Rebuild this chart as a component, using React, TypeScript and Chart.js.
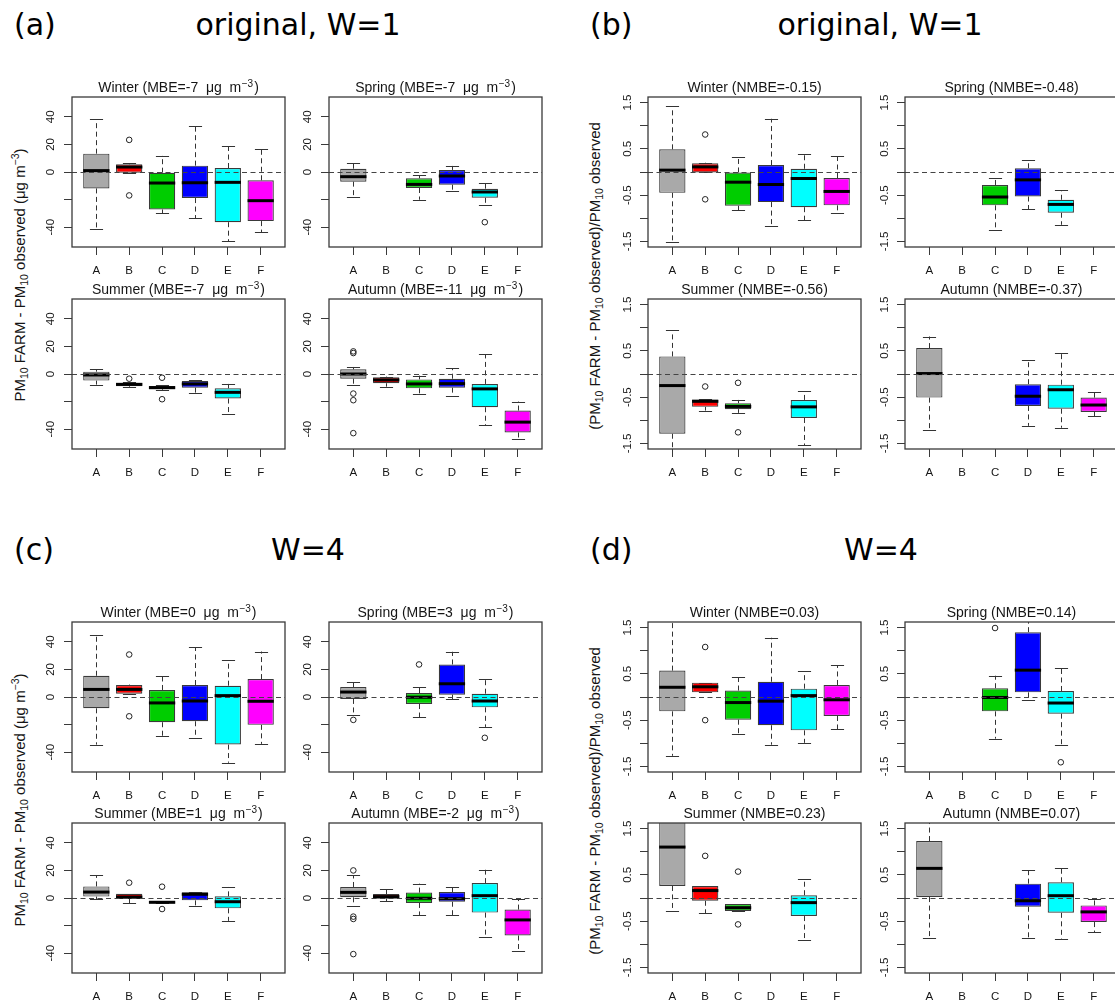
import React, { useEffect, useRef } from 'react';
import { Chart, registerables } from 'chart.js';

Chart.register(...registerables);

// ---------- data ----------
const categories = ['A', 'B', 'C', 'D', 'E', 'F'];
const seasons = ['Winter', 'Spring', 'Summer', 'Autumn'];

// each box: [lower whisker, Q1, median, Q3, upper whisker]; null = no box
// outliers: [category position (1..6), value]

// (a) original, W=1 — MBE
const aScores = ['-7', '-7', '-7', '-11'];
const aWinterBoxes = [
  [-41, -11.9, 1, 13.3, 38.3],
  [-0.5, -0.5, 3.6, 5.6, 6.2],
  [-30, -27.2, -8, -0.5, 11.9],
  [-33.5, -18.9, -7.8, 4.6, 33.5],
  [-50.4, -36.4, -7.5, 2.9, 18.7],
  [-43.6, -35.6, -20.8, -6, 16.7],
];
const aWinterOutliers = [[2, 23.3], [2, -17]];
const aSpringBoxes = [
  [-18.4, -7, -3.4, 2.4, 6.8],
  null,
  [-20.1, -11.6, -9, -4.6, -2.2],
  [-13.6, -9.2, -2.9, 1.5, 4.4],
  [-24.2, -18.7, -14.5, -12.1, -8],
  null,
];
const aSpringOutliers = [[5, -36.4]];
const aSummerBoxes = [
  [-7.7, -4.8, -0.7, 1.7, 3.6],
  [-9.6, -8.9, -7.5, -6.5, -5.8],
  [-11.8, -11.1, -9.9, -8.7, -8],
  [-13.5, -9.9, -7.2, -5.1, -4.6],
  [-28.9, -17.8, -13.3, -10.4, -7.2],
  null,
];
const aSummerOutliers = [[2, -3.4], [3, -2.7], [3, -18.3]];
const aAutumnBoxes = [
  [-8, -3.4, 0, 3.4, 5.1],
  [-9.2, -6.7, -4.3, -2.4, -1.9],
  [-14.5, -10.4, -7.2, -3.9, -1.2],
  [-16.1, -9.9, -7, -3.4, 4.3],
  [-37.3, -24.1, -10.8, -7.2, 14.5],
  [-47.5, -42.4, -34.9, -26.5, -20],
];
const aAutumnOutliers = [[1, 16.4], [1, 15.2], [1, -14.2], [1, -19], [1, -42.9]];

// (b) original, W=1 — NMBE
const bScores = ['-0.15', '-0.48', '-0.56', '-0.37'];
const bWinterBoxes = [
  [-1.52, -0.45, 0.04, 0.49, 1.42],
  [-0.01, -0.01, 0.11, 0.19, 0.2],
  [-0.83, -0.73, -0.22, -0.01, 0.33],
  [-1.16, -0.65, -0.27, 0.15, 1.15],
  [-1.04, -0.76, -0.14, 0.07, 0.38],
  [-0.89, -0.72, -0.42, -0.13, 0.34],
];
const bWinterOutliers = [[2, 0.81], [2, -0.59]];
const bSpringBoxes = [
  null,
  null,
  [-1.25, -0.72, -0.54, -0.28, -0.12],
  [-0.8, -0.53, -0.17, 0.08, 0.26],
  [-1.14, -0.88, -0.7, -0.6, -0.39],
  null,
];
const bSpringOutliers: number[][] = [];
const bSummerBoxes = [
  [-1.8, -1.29, -0.25, 0.38, 0.94],
  [-0.79, -0.71, -0.59, -0.55, -0.55],
  [-0.84, -0.76, -0.7, -0.63, -0.56],
  null,
  [-1.54, -0.95, -0.71, -0.56, -0.37],
  null,
];
const bSummerOutliers = [[2, -0.27], [3, -0.19], [3, -1.26]];
const bAutumnBoxes = [
  [-1.2, -0.51, 0.01, 0.56, 0.81],
  null,
  null,
  [-1.12, -0.69, -0.48, -0.22, 0.3],
  [-1.16, -0.75, -0.34, -0.23, 0.45],
  [-0.91, -0.82, -0.67, -0.51, -0.39],
];
const bAutumnOutliers: number[][] = [];

// (c) W=4 — MBE
const cScores = ['0', '3', '1', '-2'];
const cWinterBoxes = [
  [-34.5, -8.2, 5.5, 15.4, 45.3],
  [2.4, 2.4, 5.5, 8.7, 9],
  [-28.4, -18.3, -4.3, 5.1, 15.2],
  [-29.6, -17.6, -2.9, 8.7, 36.1],
  [-47.7, -34.5, 1, 8.2, 26.7],
  [-34, -20.2, -3.1, 13, 33],
];
const cWinterOutliers = [[2, 30.8], [2, -14]];
const cSpringBoxes = [
  [-12.8, -1.4, 3.6, 7.2, 10.8],
  null,
  [-14.5, -5.1, -0.2, 2.9, 7.2],
  [-1.7, 1.7, 9.6, 23.6, 32.8],
  [-21.7, -7.5, -2.9, 2.4, 12.8],
  null,
];
const cSpringOutliers = [[1, -16.6], [3, 23.6], [5, -29.6]];
const cSummerBoxes = [
  [-0.7, 1, 4.3, 8.4, 16.6],
  [-3.9, -0.7, 0.7, 3.1, 3.1],
  [-3.9, -3.9, -3.1, -2.2, -2.2],
  [-5.8, -1.7, 2.7, 4.1, 4.3],
  [-16.6, -7.5, -2.7, 1.2, 8],
  null,
];
const cSummerOutliers = [[2, 11.1], [3, 8.2], [3, -8]];
const cAutumnBoxes = [
  [-5.5, 0.5, 4.1, 8, 16.6],
  [-2.2, -0.5, 1, 2.9, 6.7],
  [-12.3, -3.6, -0.2, 3.9, 10.4],
  [-12.3, -2.7, -0.5, 4.3, 8.2],
  [-28.4, -10.6, 1.7, 10.8, 20.5],
  [-38.6, -27.2, -15.9, -8.4, -0.7],
];
const cAutumnOutliers = [[1, 20], [1, -13.5], [1, -15.2], [1, -40.7]];

// (d) W=4 — NMBE
const dScores = ['0.03', '0.14', '0.23', '0.07'];
const dWinterBoxes = [
  [-1.27, -0.31, 0.21, 0.57, 1.9],
  [0.1, 0.1, 0.22, 0.31, 0.31],
  [-0.79, -0.49, -0.12, 0.14, 0.43],
  [-1.03, -0.61, -0.09, 0.33, 1.28],
  [-0.99, -0.72, 0.03, 0.18, 0.56],
  [-0.7, -0.41, -0.06, 0.26, 0.69],
];
const dWinterOutliers = [[2, 1.08], [2, -0.5]];
const dSpringBoxes = [
  null,
  null,
  [-0.9, -0.31, -0.01, 0.19, 0.46],
  [-0.07, 0.1, 0.58, 1.4, 1.9],
  [-1.03, -0.36, -0.13, 0.13, 0.62],
  null,
];
const dSpringOutliers = [[3, 1.49], [5, -1.41]];
const dSummerBoxes = [
  [-0.29, 0.26, 1.1, 1.9, 2.4],
  [-0.33, -0.06, 0.16, 0.26, 0.26],
  [-0.28, -0.28, -0.21, -0.13, -0.13],
  null,
  [-0.9, -0.39, -0.1, 0.06, 0.42],
  null,
];
const dSummerOutliers = [[2, 0.91], [3, 0.57], [3, -0.57]];
const dAutumnBoxes = [
  [-0.86, 0.02, 0.64, 1.23, 1.9],
  null,
  null,
  [-0.86, -0.19, -0.06, 0.31, 0.6],
  [-0.88, -0.32, 0.05, 0.34, 0.65],
  [-0.74, -0.52, -0.3, -0.16, -0.02],
];
const dAutumnOutliers: number[][] = [];

// axis ticks
const mbeTicks = [-40, -20, 0, 20, 40];
const mbeTickLabels = ['-40', '', '0', '20', '40'];
const mbeRange = [-54.4, 54.4];
const nmbeTicks = [-1.5, -1, -0.5, 0, 0.5, 1, 1.5];
const nmbeTickLabels = ['-1.5', '', '-0.5', '', '0.5', '', '1.5'];
const nmbeRange = [-1.62, 1.62];
const xRange = [0.26, 6.74];

const quadrantLetters = ['(a)', '(b)', '(c)', '(d)'];
const quadrantTitles = ['original, W=1', 'original, W=1', 'W=4', 'W=4'];

// ---------- styles ----------
const boxColors = ['#A9A9A9', '#FF0000', '#00CD00', '#0000FF', '#00FFFF', '#FF00FF'];
const FONT = '"Liberation Sans", Arial, Helvetica, sans-serif';
const TEXT = '#151515';
const AXIS_COLOR = '#3a3a3a';
const AXIS_Y_W = 60;
const AXIS_X_H = 40;
const PAD_TOP = 30;
const PAD_RIGHT = 5;
const PLOT_W = 213;
const PLOT_H = 150;
const CANVAS_W = AXIS_Y_W + PLOT_W + PAD_RIGHT;
const CANVAS_H = PAD_TOP + PLOT_H + AXIS_X_H;

type Box = number[] | null;
type Kind = 'mbe' | 'nmbe';

interface PanelProps {
  left: number;
  top: number;
  boxes: Box[];
  outliers: number[][];
  kind: Kind;
  season: string;
  score: string;
}

function drawTitle(chart: any, kind: Kind, season: string, score: string) {
  const { ctx, chartArea } = chart;
  const cx = (chartArea.left + chartArea.right) / 2;
  const by = chartArea.top - 5;
  const mainFont = `14px ${FONT}`;
  const supFont = `10px ${FONT}`;
  const parts =
    kind === 'mbe'
      ? [
          { t: `${season} (MBE=${score}  \u03bcg  m`, sup: false },
          { t: '\u22123', sup: true },
          { t: ')', sup: false },
        ]
      : [{ t: `${season} (NMBE=${score})`, sup: false }];
  ctx.save();
  ctx.fillStyle = TEXT;
  ctx.textAlign = 'left';
  ctx.textBaseline = 'alphabetic';
  let total = 0;
  const widths: number[] = [];
  for (const p of parts) {
    ctx.font = p.sup ? supFont : mainFont;
    const w = ctx.measureText(p.t).width + (p.sup ? 1.5 : 0);
    widths.push(w);
    total += w;
  }
  let x = cx - total / 2;
  parts.forEach((p, i) => {
    ctx.font = p.sup ? supFont : mainFont;
    ctx.fillText(p.t, x + (p.sup ? 0.5 : 0), p.sup ? by - 5 : by);
    x += widths[i];
  });
  ctx.restore();
}

function Panel({ left, top, boxes, outliers, kind, season, score }: PanelProps) {
  const ref = useRef<HTMLCanvasElement | null>(null);

  useEffect(() => {
    const canvas = ref.current;
    if (!canvas) return;
    const isMbe = kind === 'mbe';
    const yTicks = isMbe ? mbeTicks : nmbeTicks;
    const yLabels = isMbe ? mbeTickLabels : nmbeTickLabels;
    const yRange = isMbe ? mbeRange : nmbeRange;
    const tickFont = { family: FONT, size: 11.5 };

    const present = boxes
      .map((b, i) => ({ b, i }))
      .filter((e) => e.b !== null) as { b: number[]; i: number }[];

    const extras = {
      id: 'boxExtras',
      beforeDatasetsDraw(chart: any) {
        const { ctx, chartArea: ca } = chart;
        const xs = chart.scales.x;
        const ys = chart.scales.y;
        ctx.save();
        ctx.beginPath();
        ctx.rect(ca.left, ca.top, ca.right - ca.left, ca.bottom - ca.top);
        ctx.clip();
        ctx.strokeStyle = '#333';
        ctx.lineWidth = 1;
        for (const { b, i } of present) {
          const cx = Math.round(xs.getPixelForValue(i + 1)) + 0.5;
          const capHalf = xs.getPixelForValue(i + 1 + 0.2) - xs.getPixelForValue(i + 1);
          const [lo, q1, , q3, hi] = b;
          ctx.setLineDash([5, 3.5]);
          ctx.beginPath();
          ctx.moveTo(cx, ys.getPixelForValue(q3));
          ctx.lineTo(cx, ys.getPixelForValue(hi));
          ctx.moveTo(cx, ys.getPixelForValue(q1));
          ctx.lineTo(cx, ys.getPixelForValue(lo));
          ctx.stroke();
          ctx.setLineDash([]);
          ctx.beginPath();
          for (const v of [lo, hi]) {
            const py = Math.round(ys.getPixelForValue(v)) + 0.5;
            ctx.moveTo(cx - capHalf, py);
            ctx.lineTo(cx + capHalf, py);
          }
          ctx.stroke();
        }
        ctx.restore();
      },
      afterDatasetsDraw(chart: any) {
        const { ctx, chartArea: ca } = chart;
        const xs = chart.scales.x;
        const ys = chart.scales.y;
        ctx.save();
        ctx.beginPath();
        ctx.rect(ca.left, ca.top, ca.right - ca.left, ca.bottom - ca.top);
        ctx.clip();
        ctx.strokeStyle = '#000';
        ctx.lineWidth = 3;
        for (const { b, i } of present) {
          const x0 = xs.getPixelForValue(i + 1 - 0.4);
          const x1 = xs.getPixelForValue(i + 1 + 0.4);
          const py = ys.getPixelForValue(b[2]);
          ctx.beginPath();
          ctx.moveTo(x0, py);
          ctx.lineTo(x1, py);
          ctx.stroke();
        }
        const y0 = Math.round(ys.getPixelForValue(0)) + 0.5;
        ctx.strokeStyle = '#444';
        ctx.lineWidth = 1.2;
        ctx.setLineDash([5, 3.5]);
        ctx.beginPath();
        ctx.moveTo(ca.left, y0);
        ctx.lineTo(ca.right, y0);
        ctx.stroke();
        ctx.restore();
        ctx.save();
        ctx.strokeStyle = AXIS_COLOR;
        ctx.lineWidth = 1.3;
        ctx.strokeRect(ca.left, ca.top, ca.right - ca.left, ca.bottom - ca.top);
        ctx.restore();
      },
      afterDraw(chart: any) {
        drawTitle(chart, kind, season, score);
      },
    };

    const zeroPad = (s: any) => {
      s.paddingLeft = 0;
      s.paddingRight = 0;
      s.paddingTop = 0;
      s.paddingBottom = 0;
    };

    const chart = new Chart(canvas, {
      type: 'bar',
      data: {
        datasets: [
          {
            type: 'bar',
            data: present.map(({ b, i }) => ({ x: i + 1, y: [b[1], b[3]] })) as any,
            backgroundColor: present.map(({ i }) => boxColors[i]),
            borderColor: AXIS_COLOR,
            borderWidth: 1.2,
            borderSkipped: false,
            barPercentage: 0.8,
            categoryPercentage: 1,
            order: 2,
          } as any,
          {
            type: 'scatter',
            data: outliers.map((o) => ({ x: o[0], y: o[1] })),
            pointStyle: 'circle',
            pointRadius: 2.8,
            pointBorderWidth: 1,
            pointBorderColor: '#222',
            pointBackgroundColor: 'rgba(0,0,0,0)',
            order: 1,
          } as any,
        ],
      },
      options: {
        responsive: false,
        animation: false,
        events: [],
        devicePixelRatio: 1,
        layout: {
          padding: { top: PAD_TOP, right: PAD_RIGHT, left: 0, bottom: 0 },
          autoPadding: false,
        },
        plugins: {
          legend: { display: false },
          tooltip: { enabled: false },
          title: { display: false },
        },
        scales: {
          x: {
            type: 'linear',
            min: xRange[0],
            max: xRange[1],
            offset: false,
            afterBuildTicks: (s: any) => {
              s.ticks = categories.map((_, i) => ({ value: i + 1 }));
            },
            afterFit: (s: any) => {
              s.height = AXIS_X_H;
              zeroPad(s);
            },
            ticks: {
              callback: (v: any) => categories[Math.round(Number(v)) - 1] ?? '',
              autoSkip: false,
              minRotation: 0,
              maxRotation: 0,
              padding: 9,
              font: tickFont,
              color: TEXT,
            },
            grid: {
              display: true,
              drawOnChartArea: false,
              drawTicks: true,
              tickLength: 8,
              color: AXIS_COLOR,
              lineWidth: 1,
              offset: false,
            },
            border: { display: false },
          } as any,
          y: {
            type: 'linear',
            min: yRange[0],
            max: yRange[1],
            afterBuildTicks: (s: any) => {
              s.ticks = yTicks.map((v) => ({ value: v }));
            },
            afterFit: (s: any) => {
              s.width = AXIS_Y_W;
              zeroPad(s);
            },
            ticks: {
              callback: (_v: any, idx: number) => yLabels[idx] ?? '',
              autoSkip: false,
              minRotation: 90,
              maxRotation: 90,
              crossAlign: 'center',
              padding: isMbe ? 5 : 2.5,
              font: tickFont,
              color: TEXT,
            },
            grid: {
              display: true,
              drawOnChartArea: false,
              drawTicks: true,
              tickLength: 8,
              color: AXIS_COLOR,
              lineWidth: 1,
            },
            border: { display: false },
          } as any,
        },
      },
      plugins: [extras as any],
    });
    return () => chart.destroy();
  }, [boxes, outliers, kind, season, score]);

  return (
    <canvas
      ref={ref}
      width={CANVAS_W}
      height={CANVAS_H}
      style={{ position: 'absolute', left: left - AXIS_Y_W, top: top - PAD_TOP, width: CANVAS_W, height: CANVAS_H }}
    />
  );
}

// layout of the four quadrants (plot-box left edges / top edges)
const quadrants = [
  {
    kind: 'mbe' as Kind,
    cols: [72, 329],
    rows: [97, 299],
    boxes: [aWinterBoxes, aSpringBoxes, aSummerBoxes, aAutumnBoxes],
    outliers: [aWinterOutliers, aSpringOutliers, aSummerOutliers, aAutumnOutliers],
    scores: aScores,
    letterPos: [14, 10],
    titleCenter: 298,
    yLabelPos: [20, 275],
  },
  {
    kind: 'nmbe' as Kind,
    cols: [648, 905],
    rows: [97, 299],
    boxes: [bWinterBoxes, bSpringBoxes, bSummerBoxes, bAutumnBoxes],
    outliers: [bWinterOutliers, bSpringOutliers, bSummerOutliers, bAutumnOutliers],
    scores: bScores,
    letterPos: [590, 10],
    titleCenter: 880,
    yLabelPos: [595, 276],
  },
  {
    kind: 'mbe' as Kind,
    cols: [72, 329],
    rows: [622, 823],
    boxes: [cWinterBoxes, cSpringBoxes, cSummerBoxes, cAutumnBoxes],
    outliers: [cWinterOutliers, cSpringOutliers, cSummerOutliers, cAutumnOutliers],
    scores: cScores,
    letterPos: [14, 535],
    titleCenter: 308,
    yLabelPos: [20, 800],
  },
  {
    kind: 'nmbe' as Kind,
    cols: [648, 905],
    rows: [622, 823],
    boxes: [dWinterBoxes, dSpringBoxes, dSummerBoxes, dAutumnBoxes],
    outliers: [dWinterOutliers, dSpringOutliers, dSummerOutliers, dAutumnOutliers],
    scores: dScores,
    letterPos: [590, 535],
    titleCenter: 881,
    yLabelPos: [595, 801],
  },
];

const subStyle: React.CSSProperties = { fontSize: '70%', verticalAlign: 'baseline', position: 'relative', top: '0.3em' };
const supStyle: React.CSSProperties = { fontSize: '70%', verticalAlign: 'baseline', position: 'relative', top: '-0.55em' };

function YLabel({ kind, x, y }: { kind: Kind; x: number; y: number }) {
  const style: React.CSSProperties = {
    position: 'absolute',
    left: x,
    top: y,
    transform: 'translate(-50%, -50%) rotate(-90deg)',
    whiteSpace: 'nowrap',
    font: `15px ${FONT}`,
    lineHeight: '16px',
    color: TEXT,
  };
  if (kind === 'mbe') {
    return (
      <div style={style}>
        PM<span style={subStyle}>10</span> FARM - PM<span style={subStyle}>10</span> observed (μg m
        <span style={supStyle}>−3</span>)
      </div>
    );
  }
  return (
    <div style={style}>
      (PM<span style={subStyle}>10</span> FARM - PM<span style={subStyle}>10</span> observed)/PM
      <span style={subStyle}>10</span> observed
    </div>
  );
}

const bigFont: React.CSSProperties = {
  position: 'absolute',
  font: '30px "DejaVu Sans", Verdana, sans-serif',
  lineHeight: '30px',
  color: '#000',
  whiteSpace: 'nowrap',
};

export default function App() {
  return (
    <div
      style={{
        position: 'absolute',
        left: 0,
        top: 0,
        width: 1115,
        height: 1003,
        overflow: 'hidden',
        background: '#fff',
      }}
    >
      {quadrants.map((q, qi) => (
        <React.Fragment key={qi}>
          <div style={{ ...bigFont, left: q.letterPos[0], top: q.letterPos[1] }}>{quadrantLetters[qi]}</div>
          <div style={{ ...bigFont, left: q.titleCenter, top: q.letterPos[1], transform: 'translateX(-50%)' }}>
            {quadrantTitles[qi]}
          </div>
          <YLabel kind={q.kind} x={q.yLabelPos[0]} y={q.yLabelPos[1]} />
          {seasons.map((s, si) => (
            <Panel
              key={si}
              left={q.cols[si % 2]}
              top={q.rows[Math.floor(si / 2)]}
              boxes={q.boxes[si]}
              outliers={q.outliers[si]}
              kind={q.kind}
              season={s}
              score={q.scores[si]}
            />
          ))}
        </React.Fragment>
      ))}
    </div>
  );
}
